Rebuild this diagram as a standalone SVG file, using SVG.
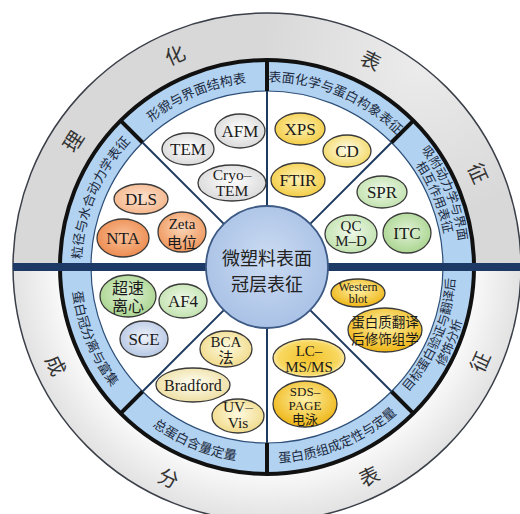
<svg xmlns="http://www.w3.org/2000/svg" width="520" height="514" viewBox="0 0 520 514">
<style>
.et{font-family:"Liberation Serif","Noto Sans CJK SC",serif;fill:#1a1a1a;text-anchor:middle}
.ec{font-family:"Noto Sans CJK SC","Noto Sans CJK JP",sans-serif;fill:#1a1a1a;text-anchor:middle}
.el{stroke:#3a3a3a;stroke-width:1.3}
.rl{font-family:"Noto Sans CJK SC","Noto Sans CJK JP",sans-serif;font-size:13px;fill:#1c2a40;text-anchor:middle}
.oc{font-family:"Noto Sans CJK SC","Noto Sans CJK JP",sans-serif;font-size:20px;fill:#333;text-anchor:middle;dominant-baseline:central}
.thin{stroke:#1f3a5f;stroke-width:2;fill:none}
.thick{stroke:#111;stroke-width:4;fill:none}
</style>
<defs>
<radialGradient id="gGray" cx="50%" cy="45%" r="60%"><stop offset="0" stop-color="#ffffff"/><stop offset="1" stop-color="#d6d6d6"/></radialGradient>
<radialGradient id="gOrL" cx="50%" cy="45%" r="60%"><stop offset="0" stop-color="#fde3cf"/><stop offset="1" stop-color="#f4b285"/></radialGradient>
<radialGradient id="gOr" cx="50%" cy="45%" r="60%"><stop offset="0" stop-color="#f9c29a"/><stop offset="1" stop-color="#ec874a"/></radialGradient>
<radialGradient id="gOrZ" cx="50%" cy="40%" r="60%"><stop offset="0" stop-color="#fbd6b8"/><stop offset="1" stop-color="#ef955a"/></radialGradient>
<radialGradient id="gYe" cx="50%" cy="45%" r="60%"><stop offset="0" stop-color="#fff3b8"/><stop offset="1" stop-color="#f2c93c"/></radialGradient>
<radialGradient id="gYeL" cx="50%" cy="45%" r="60%"><stop offset="0" stop-color="#fffcec"/><stop offset="1" stop-color="#f2d65a"/></radialGradient>
<radialGradient id="gGrL" cx="50%" cy="45%" r="60%"><stop offset="0" stop-color="#f0f9ea"/><stop offset="1" stop-color="#bde0a9"/></radialGradient>
<radialGradient id="gGr" cx="50%" cy="45%" r="60%"><stop offset="0" stop-color="#e2f2d7"/><stop offset="1" stop-color="#a5d38a"/></radialGradient>
<radialGradient id="gGo" cx="50%" cy="40%" r="60%"><stop offset="0" stop-color="#fff1a8"/><stop offset="1" stop-color="#eeb514"/></radialGradient>
<radialGradient id="gGoLC" cx="50%" cy="50%" r="55%"><stop offset="0" stop-color="#f3c22a"/><stop offset="0.75" stop-color="#f8d860"/><stop offset="1" stop-color="#fdf2c4"/></radialGradient>
<radialGradient id="gPa" cx="50%" cy="45%" r="60%"><stop offset="0" stop-color="#fffadf"/><stop offset="1" stop-color="#efd884"/></radialGradient>
<radialGradient id="gBe" cx="50%" cy="45%" r="60%"><stop offset="0" stop-color="#fffef4"/><stop offset="1" stop-color="#ecdc9c"/></radialGradient>
<radialGradient id="gBl" cx="50%" cy="45%" r="60%"><stop offset="0" stop-color="#eef2fa"/><stop offset="1" stop-color="#b2c4e2"/></radialGradient>
<radialGradient id="gCenter" cx="50%" cy="45%" r="60%"><stop offset="0" stop-color="#ccdcf2"/><stop offset="1" stop-color="#a6bfe5"/></radialGradient>
<radialGradient id="gLow" cx="267" cy="267" r="254" gradientUnits="userSpaceOnUse"><stop offset="0.8" stop-color="#fbfbfb"/><stop offset="1" stop-color="#e2e2e2"/></radialGradient>
<radialGradient id="gUp" cx="420" cy="60" r="160" gradientUnits="userSpaceOnUse"><stop offset="0" stop-color="#ececec"/><stop offset="1" stop-color="#d8d8d8"/></radialGradient>
<path id="p1" d="M267,81.5 A185.5,185.5 0 0 1 398.2,135.8"/>
<path id="p8" d="M135.8,135.8 A185.5,185.5 0 0 1 267,81.5"/>
<path id="p7" d="M81.5,267 A185.5,185.5 0 0 1 135.8,135.8"/>
<path id="p2a" d="M403.9,130.1 A193.5,193.5 0 0 1 460.5,267"/>
<path id="p2b" d="M394.3,139.7 A180,180 0 0 1 447,267"/>
<path id="p3a" d="M400.3,400.3 A188.5,188.5 0 0 0 455.5,267"/>
<path id="p3b" d="M410.2,410.2 A202.5,202.5 0 0 0 469.5,267"/>
<path id="p4" d="M267,463 A196,196 0 0 0 405.6,405.6"/>
<path id="p5" d="M128.4,405.6 A196,196 0 0 0 267,463"/>
<path id="p6" d="M71,267 A196,196 0 0 0 128.4,405.6"/>
</defs>

<g id="outer-ring">
<path d="M13,267 A254,254 0 0 1 521,267 Z" fill="url(#gUp)"/>
<path d="M13,267 A254,254 0 0 0 521,267 Z" fill="url(#gLow)"/>
<circle cx="267" cy="267" r="254" fill="none" stroke="#3a3f48" stroke-width="1.5"/>
<text class="oc" transform="translate(72.4,140.7) rotate(-57)">理</text>
<text class="oc" transform="translate(174.5,54.2) rotate(-23.5)">化</text>
<text class="oc" transform="translate(371.2,59.7) rotate(26.7)">表</text>
<text class="oc" transform="translate(479,172.6) rotate(66)">征</text>
<text class="oc" transform="translate(56.7,365) rotate(65)">成</text>
<text class="oc" transform="translate(169,477.3) rotate(25)">分</text>
<text class="oc" transform="translate(368.7,475.5) rotate(-26)">表</text>
<text class="oc" transform="translate(479,361.4) rotate(-66)">征</text>
</g>

<g id="blue-ring">
<circle cx="267" cy="267" r="207" fill="#b1d2f1" stroke="#111" stroke-width="4"/>
<circle cx="267" cy="267" r="176" fill="#ffffff" stroke="#2e4f78" stroke-width="1.2"/>
</g>

<g id="connectors">
<line class="thin" x1="267" y1="207" x2="267" y2="91"/>
<line class="thin" x1="267" y1="327" x2="267" y2="443"/>
<line class="thin" x1="309.4" y1="224.6" x2="391.5" y2="142.5"/>
<line class="thin" x1="224.6" y1="224.6" x2="142.5" y2="142.5"/>
<line class="thin" x1="309.4" y1="309.4" x2="391.5" y2="391.5"/>
<line class="thin" x1="224.6" y1="309.4" x2="142.5" y2="391.5"/>
<line class="thick" x1="267" y1="91" x2="267" y2="59"/>
<line class="thick" x1="267" y1="443" x2="267" y2="475"/>
<line class="thick" x1="391.5" y1="142.5" x2="414.1" y2="119.9"/>
<line class="thick" x1="142.5" y1="142.5" x2="119.9" y2="119.9"/>
<line class="thick" x1="391.5" y1="391.5" x2="414.1" y2="414.1"/>
<line class="thick" x1="142.5" y1="391.5" x2="119.9" y2="414.1"/>
<rect x="13" y="263" width="508" height="8" fill="#1d3a66"/>
</g>

<g id="ring-labels">
<text class="rl"><textPath href="#p1" startOffset="50%">表面化学与蛋白构象表征</textPath></text>
<text class="rl"><textPath href="#p8" startOffset="50%">形貌与界面结构表</textPath></text>
<text class="rl"><textPath href="#p7" startOffset="50%">粒径与水合动力学表征</textPath></text>
<text class="rl" style="font-size:12.5px"><textPath href="#p2a" startOffset="50%">吸附动力学与界面</textPath></text>
<text class="rl" style="font-size:12.5px"><textPath href="#p2b" startOffset="50%">相互作用表征</textPath></text>
<text class="rl" style="font-size:12.5px"><textPath href="#p3a" startOffset="50%">目标蛋白验证与翻译后</textPath></text>
<text class="rl" style="font-size:12.5px"><textPath href="#p3b" startOffset="50%">修饰分析</textPath></text>
<text class="rl"><textPath href="#p4" startOffset="50%">蛋白质组成定性与定量</textPath></text>
<text class="rl"><textPath href="#p5" startOffset="50%">总蛋白含量定量</textPath></text>
<text class="rl"><textPath href="#p6" startOffset="50%">蛋白冠分离与富集</textPath></text>
</g>

<g id="center">
<circle cx="267" cy="267" r="61" fill="url(#gCenter)" stroke="#3d5a85" stroke-width="1.8"/>
<text class="ec" x="267" y="265" style="font-size:18px;fill:#222">微塑料表面</text>
<text class="ec" x="267" y="291" style="font-size:18px;fill:#222">冠层表征</text>
</g>

<g id="TEM"><ellipse class="el" cx="188" cy="149" rx="26" ry="16" fill="url(#gGray)"/><text class="et" x="188" y="155" font-size="17">TEM</text></g>
<g id="AFM"><ellipse class="el" cx="240" cy="131" rx="25" ry="17" fill="url(#gGray)"/><text class="et" x="240" y="137" font-size="17">AFM</text></g>
<g id="Cryo-TEM"><ellipse class="el" cx="232" cy="183" rx="34" ry="18" fill="url(#gGray)"/><text class="et" x="232" y="180" font-size="15.5">Cryo–</text><text class="et" x="232" y="196" font-size="15.5">TEM</text></g>

<g id="DLS"><ellipse class="el" cx="141" cy="199" rx="27" ry="15" fill="url(#gOrL)"/><text class="et" x="141" y="205" font-size="17">DLS</text></g>
<g id="NTA"><ellipse class="el" cx="123" cy="238" rx="26" ry="19" fill="url(#gOr)"/><text class="et" x="123" y="244" font-size="17">NTA</text></g>
<g id="Zeta"><ellipse class="el" cx="182" cy="232" rx="24" ry="20" fill="url(#gOrZ)"/><text class="et" x="182" y="229" font-size="15">Zeta</text><text class="ec" x="182" y="248" font-size="15">电位</text></g>

<g id="XPS"><ellipse class="el" cx="300" cy="129" rx="25" ry="16" fill="url(#gYe)"/><text class="et" x="300" y="135" font-size="17">XPS</text></g>
<g id="CD"><ellipse class="el" cx="347" cy="151" rx="24" ry="16" fill="url(#gYeL)"/><text class="et" x="347" y="157" font-size="17">CD</text></g>
<g id="FTIR"><ellipse class="el" cx="298" cy="180" rx="27" ry="17" fill="url(#gYe)"/><text class="et" x="298" y="186" font-size="17">FTIR</text></g>

<g id="SPR"><ellipse class="el" cx="382" cy="192" rx="25" ry="16" fill="url(#gGrL)"/><text class="et" x="382" y="198" font-size="17">SPR</text></g>
<g id="QCM-D"><ellipse class="el" cx="351" cy="234" rx="26" ry="19" fill="url(#gGrL)"/><text class="et" x="351" y="231" font-size="15">QC</text><text class="et" x="351" y="246" font-size="15">M–D</text></g>
<g id="ITC"><ellipse class="el" cx="407" cy="233" rx="24" ry="20" fill="url(#gGr)"/><text class="et" x="407" y="239" font-size="17">ITC</text></g>

<g id="Western"><ellipse class="el" cx="358" cy="293" rx="27" ry="14" fill="url(#gGo)"/><text class="et" x="358" y="291" font-size="12">Western</text><text class="et" x="358" y="303" font-size="12">blot</text></g>
<g id="PTM"><ellipse class="el" cx="385" cy="330" rx="37" ry="22" fill="url(#gGo)"/><text class="ec" x="385" y="327" font-size="13.5">蛋白质翻译</text><text class="ec" x="385" y="344" font-size="13.5">后修饰组学</text></g>

<g id="LC-MS"><ellipse class="el" cx="309" cy="358" rx="36" ry="19" fill="url(#gGoLC)"/><text class="et" x="309" y="356" font-size="15">LC–</text><text class="et" x="309" y="372" font-size="15">MS/MS</text></g>
<g id="SDS-PAGE"><ellipse class="el" cx="305" cy="404" rx="32" ry="23" fill="url(#gGo)"/><text class="et" x="305" y="396" font-size="13">SDS–</text><text class="et" x="305" y="409.5" font-size="13">PAGE</text><text class="ec" x="305" y="424" font-size="13">电泳</text></g>

<g id="BCA"><ellipse class="el" cx="226" cy="349" rx="26" ry="18" fill="url(#gPa)"/><text class="et" x="226" y="347" font-size="15">BCA</text><text class="ec" x="226" y="363" font-size="15">法</text></g>
<g id="Bradford"><ellipse class="el" cx="193" cy="385" rx="37" ry="17" fill="url(#gBe)"/><text class="et" x="193" y="391" font-size="16">Bradford</text></g>
<g id="UV-Vis"><ellipse class="el" cx="238" cy="416" rx="26" ry="17" fill="url(#gPa)"/><text class="et" x="238" y="412" font-size="15.5">UV–</text><text class="et" x="238" y="428" font-size="15.5">Vis</text></g>

<g id="ultracentrifuge"><ellipse class="el" cx="128" cy="296" rx="28" ry="21" fill="url(#gGr)"/><text class="ec" x="128" y="294" font-size="16">超速</text><text class="ec" x="128" y="312" font-size="16">离心</text></g>
<g id="AF4"><ellipse class="el" cx="183" cy="301" rx="24" ry="17" fill="url(#gGrL)"/><text class="et" x="183" y="307" font-size="17">AF4</text></g>
<g id="SCE"><ellipse class="el" cx="144" cy="339" rx="24" ry="18" fill="url(#gBl)"/><text class="et" x="144" y="345" font-size="17">SCE</text></g>
</svg>
